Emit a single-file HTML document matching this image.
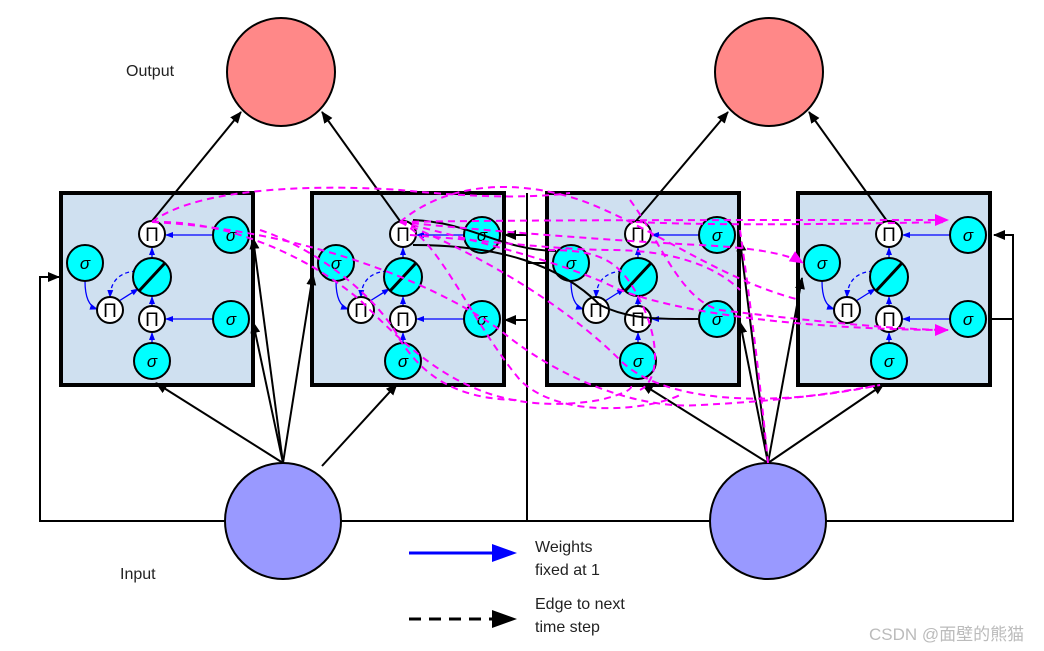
<!DOCTYPE html>
<html><head><meta charset="utf-8"><style>
html,body{margin:0;padding:0;background:#fff;}
svg{display:block;}
text{font-family:"Liberation Sans",sans-serif;}
.sg{font-family:"Liberation Serif",serif;font-style:italic;font-size:17px;}
.pi{font-family:"Liberation Serif","DejaVu Serif",serif;font-size:19px;}
</style></head><body>
<svg width="1044" height="651" viewBox="0 0 1044 651" xmlns="http://www.w3.org/2000/svg">
<defs>
<marker id="ab" markerWidth="8" markerHeight="8" refX="7" refY="4" orient="auto" markerUnits="userSpaceOnUse"><path d="M0,1 L8,4 L0,7 z" fill="#00f"/></marker>
<marker id="ak" markerWidth="12" markerHeight="10" refX="11" refY="5" orient="auto" markerUnits="userSpaceOnUse"><path d="M0,0 L12,5 L0,10 z" fill="#000"/></marker>
<marker id="am" markerWidth="14" markerHeight="12" refX="13" refY="6" orient="auto" markerUnits="userSpaceOnUse"><path d="M0,0 L14,6 L0,12 z" fill="#f0f"/></marker>
<g id="blk">
<rect x="0" y="0" width="192" height="192" fill="#cfe0f0" stroke="#000" stroke-width="4"/>
<g stroke="#00f" stroke-width="1.3" fill="none" marker-end="url(#ab)">
<line x1="152" y1="42" x2="105" y2="42"/>
<line x1="152" y1="126" x2="105" y2="126"/>
<line x1="91" y1="150" x2="91" y2="140"/>
<line x1="91" y1="113" x2="91" y2="104"/>
<line x1="91" y1="65" x2="91" y2="55"/>
<path d="M24,88 Q24,112 36,116"/>
<path d="M58,108 L77,96"/>
<path d="M75,78 Q50,80 49,104" stroke-dasharray="4,3"/>
</g>
<g stroke="#000" stroke-width="2">
<circle cx="170" cy="42" r="18" fill="#0ff"/>
<circle cx="24" cy="70" r="18" fill="#0ff"/>
<circle cx="170" cy="126" r="18" fill="#0ff"/>
<circle cx="91" cy="168" r="18" fill="#0ff"/>
<circle cx="91" cy="84" r="19" fill="#0ff"/>
<line x1="78" y1="98" x2="104" y2="70" stroke-width="3"/>
<circle cx="91" cy="41" r="13" fill="#fff"/>
<circle cx="49" cy="117" r="13" fill="#fff"/>
<circle cx="91" cy="126" r="13" fill="#fff"/>
</g>
<g class="sg" text-anchor="middle"><text x="170" y="48">σ</text><text x="24" y="76">σ</text><text x="170" y="132">σ</text><text x="91" y="174">σ</text></g>
<g class="pi" text-anchor="middle"><text x="91" y="48">Π</text><text x="49" y="124">Π</text><text x="91" y="133">Π</text></g>
</g>
</defs>

<circle cx="281" cy="72" r="54" fill="#f88" stroke="#000" stroke-width="2"/>
<circle cx="769" cy="72" r="54" fill="#f88" stroke="#000" stroke-width="2"/>
<text x="126" y="76" font-size="16" fill="#222">Output</text>
<text x="120" y="579" font-size="16" fill="#222">Input</text>

<g stroke="#000" stroke-width="2" fill="none">
<polyline points="226,521 40,521 40,277 59,277" marker-end="url(#ak)"/>
<polyline points="340,521 527,521 527,193"/>
<line x1="527" y1="235" x2="505" y2="235" marker-end="url(#ak)"/>
<line x1="527" y1="320" x2="505" y2="320" marker-end="url(#ak)"/>
<line x1="527" y1="263" x2="553" y2="263"/>
<polyline points="527,521 710,521"/>
<polyline points="826,521 1013,521 1013,235 994,235" />
<line x1="1000" y1="235" x2="994" y2="235" marker-end="url(#ak)"/>
<line x1="988" y1="319" x2="1013" y2="319"/>
</g>

<use href="#blk" x="61" y="193"/>
<use href="#blk" x="312" y="193"/>
<use href="#blk" x="547" y="193"/>
<use href="#blk" x="798" y="193"/>

<circle cx="283" cy="521" r="58" fill="#99f" stroke="#000" stroke-width="2"/>
<circle cx="768" cy="521" r="58" fill="#99f" stroke="#000" stroke-width="2"/>

<g stroke="#000" stroke-width="2" fill="none" marker-end="url(#ak)">
<line x1="152" y1="221" x2="241" y2="112"/>
<line x1="400" y1="221" x2="322" y2="112"/>
<line x1="636" y1="221" x2="728" y2="112"/>
<line x1="887" y1="221" x2="809" y2="112"/>
<line x1="283" y1="463" x2="156" y2="383"/>
<line x1="283" y1="463" x2="253" y2="238"/>
<line x1="283" y1="463" x2="253" y2="322"/>
<line x1="283" y1="463" x2="313" y2="274"/>
<line x1="322" y1="466" x2="397" y2="384"/>
<line x1="768" y1="463" x2="642" y2="384"/>
<line x1="768" y1="463" x2="740" y2="240"/>
<line x1="768" y1="463" x2="740" y2="322"/>
<line x1="768" y1="463" x2="802" y2="278"/>
<line x1="768" y1="463" x2="884" y2="384"/>
<path d="M413,220 C470,222 500,250 556,251" marker-end="none"/>
<path d="M413,245 C500,245 560,265 600,305 C630,320 660,319 700,319" marker-end="none"/>
</g>

<g stroke="#f0f" stroke-width="2" fill="none" stroke-dasharray="7,5">
<path d="M152,222 C200,185 330,185 400,190 C450,195 520,200 570,193"/>
<path d="M152,222 C220,220 300,250 360,300 C420,360 480,420 600,400 C640,390 630,385 630,385"/>
<path d="M152,222 C300,230 430,280 500,330 C560,380 640,410 700,405 C800,400 850,390 880,385"/>
<path d="M400,222 C450,180 520,180 580,200 C650,225 720,280 800,300"/>
<path d="M400,222 C500,220 700,220 948,220" marker-end="url(#am)"/>
<path d="M400,222 C480,230 600,240 700,245 C760,248 790,255 803,263" marker-end="url(#am)"/>
<path d="M400,222 C470,240 560,260 620,290 C700,320 850,330 948,330" marker-end="url(#am)"/>
<path d="M400,222 C470,250 560,300 620,360 C660,400 760,410 880,385"/>
<path d="M400,222 C440,240 470,320 520,380 C560,420 650,410 680,395"/>
<path d="M410,235 C480,240 560,250 610,250 C680,250 720,270 740,290"/>
<path d="M636,222 C700,225 800,225 948,222"/>
<path d="M548,250 C600,250 620,260 640,300 C660,340 660,380 640,390"/>
<path d="M740,230 C750,300 760,380 768,463"/>
<path d="M260,230 C320,250 380,300 400,340 C420,370 450,400 520,400"/>
<path d="M630,200 C660,240 680,300 720,310 C800,320 900,330 948,330"/>
</g>

<line x1="409" y1="553" x2="495" y2="553" stroke="#00f" stroke-width="3"/>
<path d="M492,544 L517,553 L492,562 z" fill="#00f"/>
<line x1="409" y1="619" x2="495" y2="619" stroke="#000" stroke-width="3" stroke-dasharray="12,8"/>
<path d="M492,610 L517,619 L492,628 z" fill="#000"/>
<g font-size="16" fill="#222">
<text x="535" y="552">Weights</text>
<text x="535" y="575">fixed at 1</text>
<text x="535" y="609">Edge to next</text>
<text x="535" y="632">time step</text>
</g>
<text x="869" y="640" font-size="17" fill="#bbb" font-family="'Liberation Sans','Noto Sans CJK SC',sans-serif">CSDN @面壁的熊猫</text>
</svg>
</body></html>
